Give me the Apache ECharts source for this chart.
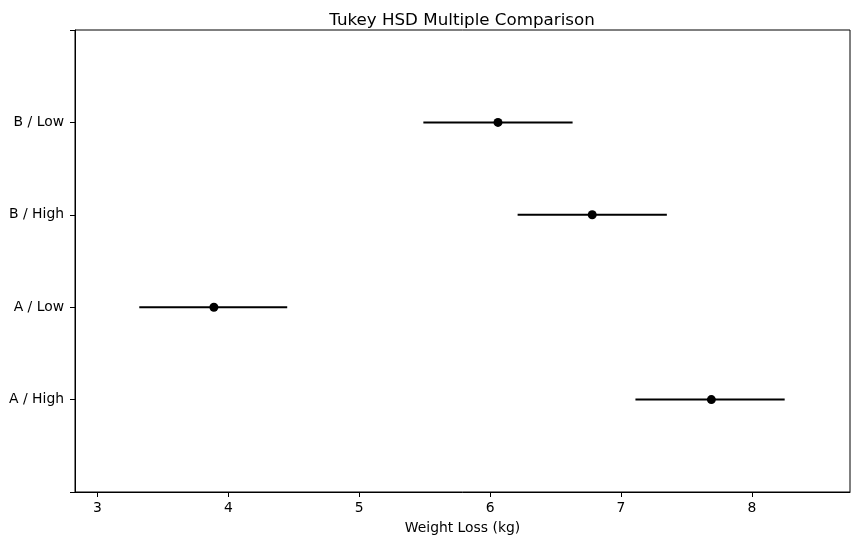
<!DOCTYPE html>
<html>
<head>
<meta charset="utf-8">
<script src="https://cdn.jsdelivr.net/npm/echarts@6/dist/echarts.min.js"></script>
<style>
  html, body { margin: 0; padding: 0; background: #fff; }
  #chart { width: 859px; height: 545px; }
</style>
</head>
<body>
<div id="chart"></div>
<script>
// comparison groups, bottom to top
var groups = ['A / High', 'A / Low', 'B / High', 'B / Low'];
var means = [7.69, 3.89, 6.78, 6.06];
var lower = [7.11, 3.32, 6.21, 5.49];
var upper = [8.25, 4.45, 7.35, 6.63];
var xTicks = [3, 4, 5, 6, 7, 8];
var yTicks = [-1, 0, 1, 2, 3, 4];

var font = 'DejaVu Sans';

var barData = [];
var dotData = [];
for (var i = 0; i < groups.length; i++) {
    barData.push([lower[i], upper[i], i]);
    dotData.push([means[i], i]);
}

var chart = echarts.init(document.getElementById('chart'));

chart.setOption({
    animation: false,
    title: {
        text: 'Tukey HSD Multiple Comparison',
        left: 457,
        textAlign: 'center',
        top: 7,
        textStyle: { fontFamily: font, fontSize: 16.7, fontWeight: 'normal', color: '#000' }
    },
    grid: {
        left: 75, right: 9, top: 30, bottom: 53,
        show: true, borderColor: '#000', borderWidth: 1,
        containLabel: false
    },
    xAxis: {
        type: 'value',
        min: 2.829,
        max: 8.749,
        name: 'Weight Loss (kg)',
        nameLocation: 'middle',
        nameGap: 29,
        nameTextStyle: { fontFamily: font, fontSize: 13.9, color: '#000' },
        axisLine: { show: true, onZero: false, lineStyle: { color: '#000', width: 1 } },
        axisTick: { show: true, length: 5, lineStyle: { color: '#000' }, customValues: xTicks },
        axisLabel: { fontFamily: font, fontSize: 13.9, color: '#000', margin: 9, customValues: xTicks },
        splitLine: { show: false }
    },
    yAxis: {
        type: 'value',
        min: -1,
        max: 4,
        interval: 1,
        axisLine: { show: true, onZero: false, lineStyle: { color: '#000', width: 1 } },
        axisTick: { show: true, length: 5, lineStyle: { color: '#000' }, customValues: yTicks },
        axisLabel: {
            fontFamily: font, fontSize: 13.9, color: '#000', margin: 11,
            customValues: yTicks,
            formatter: function (v) {
                return groups[v] || '';
            }
        },
        splitLine: { show: false }
    },
    series: [
        {
            type: 'custom',
            data: barData,
            encode: { x: [0, 1], y: 2 },
            renderItem: function (params, api) {
                var a = api.coord([api.value(0), api.value(2)]);
                var b = api.coord([api.value(1), api.value(2)]);
                return {
                    type: 'line',
                    shape: { x1: a[0], y1: a[1], x2: b[0], y2: b[1] },
                    style: { stroke: '#000', lineWidth: 2 }
                };
            },
            z: 2
        },
        {
            type: 'scatter',
            data: dotData,
            symbol: 'circle',
            symbolSize: 9,
            itemStyle: { color: '#000', opacity: 1 },
            z: 3
        }
    ]
});
</script>
</body>
</html>
